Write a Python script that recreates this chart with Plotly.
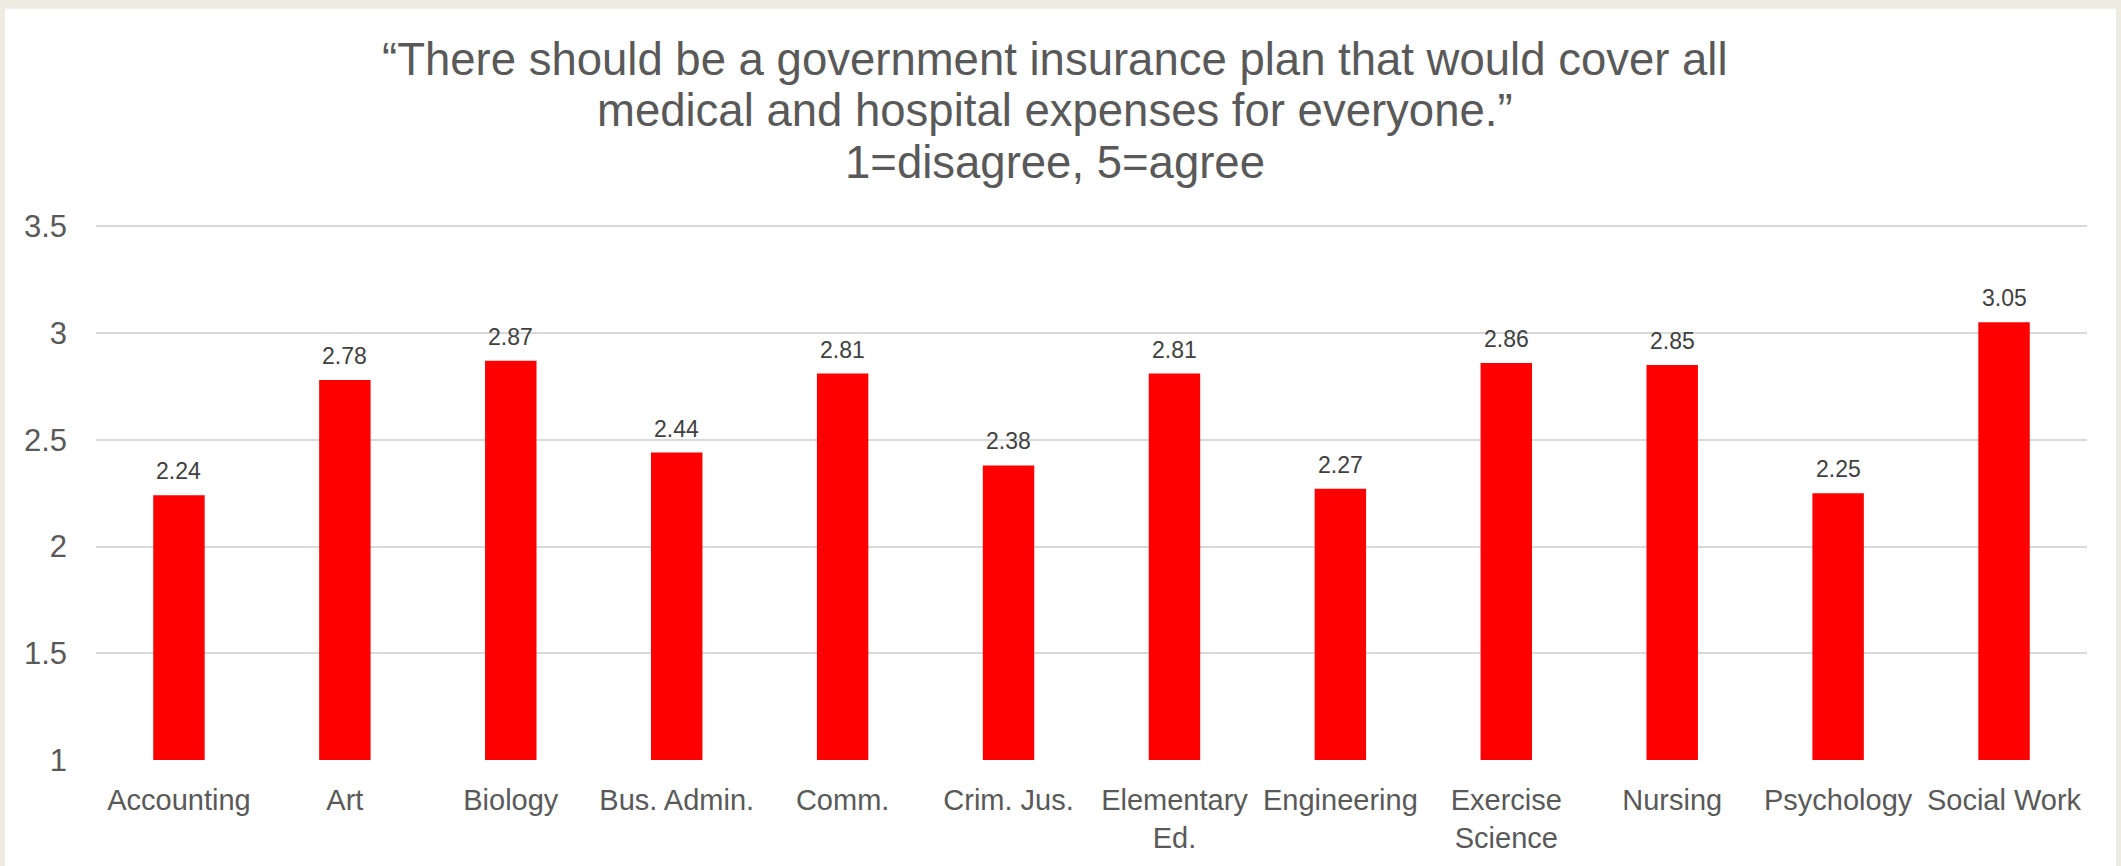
import plotly.graph_objects as go

categories = ["Accounting", "Art", "Biology", "Bus. Admin.", "Comm.", "Crim. Jus.",
              "Elementary<br>Ed.", "Engineering", "Exercise<br>Science", "Nursing",
              "Psychology", "Social Work"]
values = [2.24, 2.78, 2.87, 2.44, 2.81, 2.38, 2.81, 2.27, 2.86, 2.85, 2.25, 3.05]
value_labels = ["2.24", "2.78", "2.87", "2.44", "2.81", "2.38", "2.81", "2.27", "2.86", "2.85", "2.25", "3.05"]
y_ticks = [1, 1.5, 2, 2.5, 3, 3.5]
y_tick_text = ["1", "1.5", "2", "2.5", "3", "3.5"]
title_lines = ["\u201cThere should be a government insurance plan that would cover all",
               "medical and hospital expenses for everyone.\u201d",
               "1=disagree, 5=agree"]

W, H = 2121, 866
ML, MR, MT, MB = 96, 34, 222, 104
PW = W - ML - MR
PH = H - MT - MB

FONT = "Liberation Sans, Arial, sans-serif"


def px_to_paper_x(px):
    return (px - ML) / PW


def px_to_paper_y(py):
    return (H - MB - py) / PH


fig = go.Figure()
fig.add_trace(go.Bar(
    x=categories, y=values,
    marker=dict(color="#FF0000", line=dict(width=0)),
    width=0.31,
    hoverinfo="x+y",
))

for c, v, t in zip(categories, values, value_labels):
    fig.add_annotation(x=c, y=v, text=t, showarrow=False, xanchor="center",
                       yanchor="bottom", yshift=9,
                       font=dict(family=FONT, size=23, color="#404040"))

title_centers_px = [59, 110, 162]
for line, cy in zip(title_lines, title_centers_px):
    fig.add_annotation(xref="paper", yref="paper", x=px_to_paper_x(1055), y=px_to_paper_y(cy),
                       text=line, showarrow=False, xanchor="center", yanchor="middle",
                       font=dict(family=FONT, size=45.5, color="#595959"))

# white inner panel over beige frame
fig.add_shape(type="rect", xref="paper", yref="paper", layer="below",
              x0=px_to_paper_x(5), x1=px_to_paper_x(2116),
              y0=px_to_paper_y(H + 5), y1=px_to_paper_y(8),
              fillcolor="white", line=dict(width=0))

fig.update_layout(
    width=W, height=H,
    margin=dict(l=ML, r=MR, t=MT, b=MB, pad=0),
    paper_bgcolor="#EEEBE3",
    plot_bgcolor="rgba(0,0,0,0)",
    showlegend=False,
    bargap=0.69,
    xaxis=dict(showgrid=False, showline=False, zeroline=False, ticks="",
               tickfont=dict(family=FONT, size=29, color="#595959"),
               ticklabelstandoff=20, fixedrange=True),
    yaxis=dict(range=[1, 3.52], tickvals=y_ticks, ticktext=y_tick_text,
               showgrid=True, gridcolor="#D9D9D9", gridwidth=2,
               zeroline=False, showline=False, ticks="",
               tickfont=dict(family=FONT, size=31, color="#595959"),
               ticklabelstandoff=28, fixedrange=True),
)

fig.write_html("out.html", config={"displayModeBar": False},
               post_script="document.body.style.margin='0';")
